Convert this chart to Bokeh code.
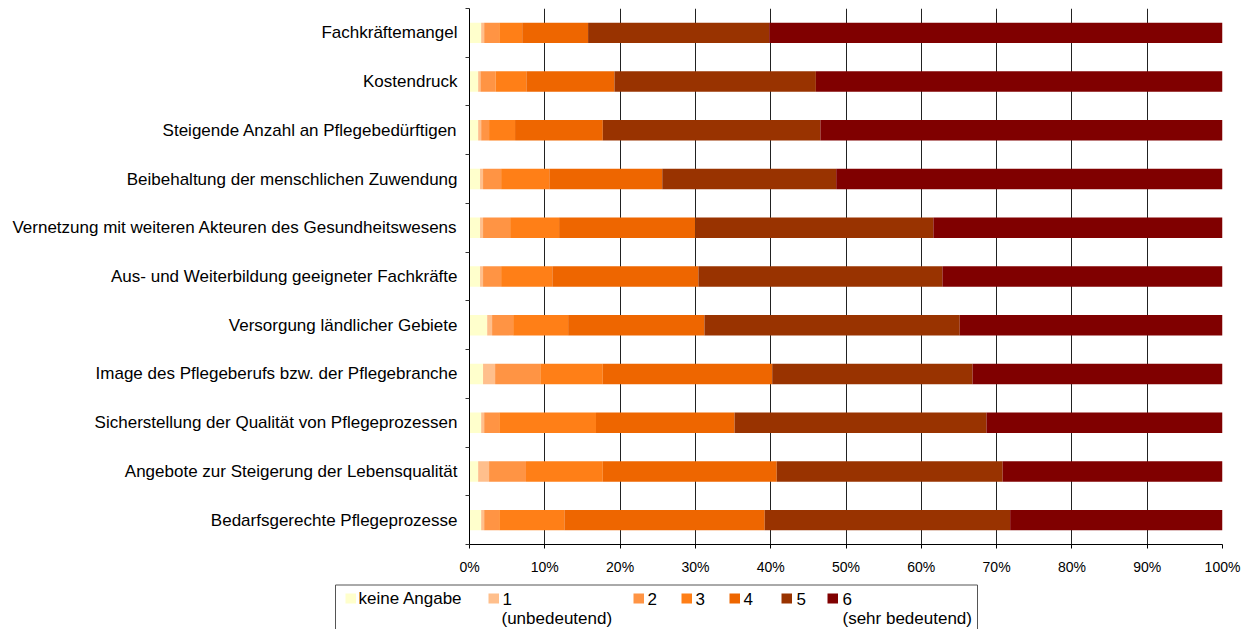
from bokeh.plotting import figure
from bokeh.models import ColumnDataSource, Range1d, FixedTicker, PrintfTickFormatter
from bokeh.embed import file_html
from bokeh.resources import INLINE
from bokeh.core.properties import value

categories = [
    "Fachkräftemangel",
    "Kostendruck",
    "Steigende Anzahl an Pflegebedürftigen",
    "Beibehaltung der menschlichen Zuwendung",
    "Vernetzung mit weiteren Akteuren des Gesundheitswesens",
    "Aus- und Weiterbildung geeigneter Fachkräfte",
    "Versorgung ländlicher Gebiete",
    "Image des Pflegeberufs bzw. der Pflegebranche",
    "Sicherstellung der Qualität von Pflegeprozessen",
    "Angebote zur Steigerung der Lebensqualität",
    "Bedarfsgerechte Pflegeprozesse",
]

keine_angabe = [1.55, 1.15, 1.15, 1.4, 1.4, 1.4, 2.35, 1.8, 1.55, 1.15, 1.55]
r1 = [0.4, 0.3, 0.4, 0.4, 0.4, 0.4, 0.65, 1.6, 0.4, 1.45, 0.4]
r2 = [2.0, 2.0, 1.05, 2.4, 3.6, 2.4, 2.8, 6.0, 2.0, 4.9, 2.0]
r3 = [3.05, 4.1, 3.45, 6.4, 6.5, 6.8, 7.3, 8.3, 12.85, 10.2, 8.65]
r4 = [8.75, 11.7, 11.65, 15.0, 18.1, 19.4, 18.1, 22.5, 18.4, 23.1, 26.6]
r5 = [24.05, 26.75, 28.9, 23.1, 31.6, 32.4, 33.9, 26.6, 33.45, 30.0, 32.6]
r6 = [60.2, 54.0, 53.4, 51.3, 38.4, 37.2, 34.9, 33.2, 31.35, 29.2, 28.2]

legend_labels = ["keine Angabe", "1", "2", "3", "4", "5", "6"]
legend_sublabels = {"1": "(unbedeutend)", "6": "(sehr bedeutend)"}
x_ticks = list(range(0, 101, 10))

colors = ["#FFFFCC", "#FFBF8C", "#FF9444", "#FF7F17", "#EE6600", "#993300", "#800000"]
series = ["ka", "r1", "r2", "r3", "r4", "r5", "r6"]

n = len(categories)
ypos = [n - 0.5 - i for i in range(n)]

source = ColumnDataSource(dict(
    y=ypos, ka=keine_angabe, r1=r1, r2=r2, r3=r3, r4=r4, r5=r5, r6=r6,
))

FONT = "Liberation Sans"
W = 1252

p = figure(width=W, height=582, x_range=Range1d(0, 100), y_range=Range1d(0, n),
           output_backend="svg", toolbar_location=None,
           min_border_left=469, min_border_right=30, min_border_top=8, min_border_bottom=38)
p.outline_line_color = None

p.hbar_stack(series, y="y", height=0.42, color=colors, line_color=None, source=source)

# x axis
p.xaxis.ticker = FixedTicker(ticks=x_ticks)
p.xaxis.formatter = PrintfTickFormatter(format="%d%%")
p.xaxis.major_tick_in = 0
p.xaxis.major_tick_out = 4
p.xaxis.minor_tick_line_color = None
p.xaxis.axis_line_color = "black"
p.xaxis.major_tick_line_color = "black"
p.xaxis.major_label_text_font = FONT
p.xaxis.major_label_text_font_size = "14px"
p.xaxis.major_label_text_color = "black"
p.xaxis.major_label_standoff = 10

# y axis
p.yaxis.ticker = FixedTicker(ticks=ypos, minor_ticks=list(range(0, n + 1)))
p.yaxis.major_label_overrides = {y: c for y, c in zip(ypos, categories)}
p.yaxis.major_tick_in = 0
p.yaxis.major_tick_out = 0
p.yaxis.minor_tick_in = 0
p.yaxis.minor_tick_out = 4
p.yaxis.minor_tick_line_color = "#333333"
p.yaxis.axis_line_color = "black"
p.yaxis.major_label_text_font = FONT
p.yaxis.major_label_text_font_size = "17px"
p.yaxis.major_label_text_color = "black"
p.yaxis.major_label_standoff = 8

p.xgrid.ticker = FixedTicker(ticks=x_ticks[1:])
p.xgrid.grid_line_color = "#222222"
p.xgrid.grid_line_width = 1
p.ygrid.grid_line_color = None

# legend figure (separate root, coordinates in page pixels)
LH = 47
lg = figure(width=W, height=LH, x_range=Range1d(0, W), y_range=Range1d(LH, 0),
            output_backend="svg", toolbar_location=None,
            min_border_left=0, min_border_right=0, min_border_top=0, min_border_bottom=0,
            x_axis_type=None, y_axis_type=None)
lg.outline_line_color = None
lg.xgrid.visible = False
lg.ygrid.visible = False

lg.quad(left=335, right=977, top=2.5, bottom=80, fill_color=None, line_color="#555555", line_width=1)

sw_left = [345, 488, 633, 681, 729, 781, 827]
txt_x = [358, 502, 647, 695, 743, 796, 842]
line1 = 16
lg.quad(left=sw_left, right=[s + 10.5 for s in sw_left], top=line1 - 5, bottom=line1 + 5,
        fill_color=colors, line_color=None)
lg.text(x=txt_x, y=[line1] * len(txt_x), text=legend_labels,
        text_font=value(FONT), text_font_size=value("17px"), text_baseline="middle",
        text_align="left", text_color="black")
sub_x = [txt_x[1] - 1, txt_x[6]]
lg.text(x=sub_x, y=[36, 36], text=[legend_sublabels["1"], legend_sublabels["6"]],
        text_font=value(FONT), text_font_size=value("17px"), text_baseline="middle",
        text_align="left", text_color="black")

open("out.html", "w").write(file_html([p, lg], INLINE))
